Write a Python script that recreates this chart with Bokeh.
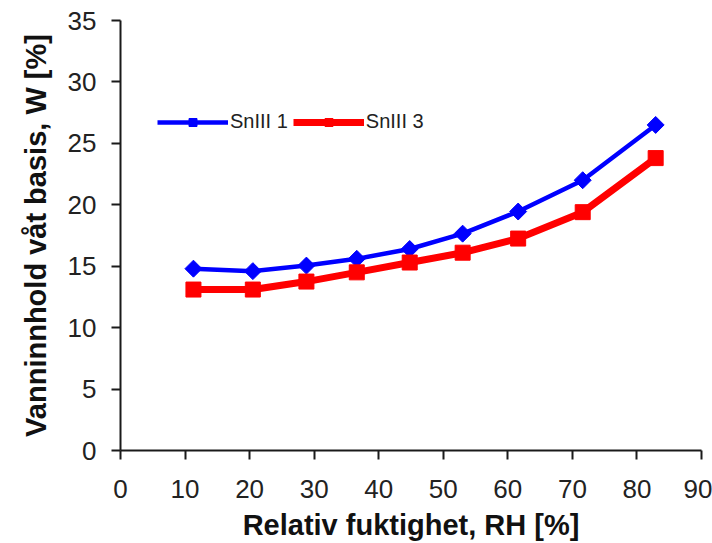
from bokeh.plotting import figure
from bokeh.models import Range1d, FixedTicker, Legend, LegendItem
from bokeh.embed import file_html
from bokeh.resources import INLINE

rh = [11.3, 20.5, 28.8, 36.6, 44.8, 53.0, 61.6, 71.6, 82.9]
snii1 = [14.8, 14.6, 15.05, 15.6, 16.4, 17.65, 19.45, 22.0, 26.5]
snii3 = [13.1, 13.1, 13.75, 14.5, 15.3, 16.1, 17.25, 19.4, 23.8]
series_names = ["SnIII 1", "SnIII 3"]
x_ticks = [0, 10, 20, 30, 40, 50, 60, 70, 80, 90]
y_ticks = [0, 5, 10, 15, 20, 25, 30, 35]

p = figure(width=712, height=543, output_backend="svg", toolbar_location=None,
           x_range=Range1d(0, 90), y_range=Range1d(0, 35),
           min_border_left=120, min_border_right=11, min_border_top=20, min_border_bottom=93)
p.outline_line_color = None
p.xgrid.grid_line_color = None
p.ygrid.grid_line_color = None
p.background_fill_color = "white"
p.border_fill_color = "white"

font = "Liberation Sans"
for ax in (p.xaxis[0], p.yaxis[0]):
    ax.axis_line_color = "#1a1a1a"
    ax.axis_line_width = 2
    ax.major_tick_line_color = "#1a1a1a"
    ax.major_tick_line_width = 2
    ax.major_tick_out = 9
    ax.major_tick_in = 0
    ax.minor_tick_line_color = None
    ax.major_label_text_font = font
    ax.major_label_text_font_size = "26px"
    ax.major_label_text_color = "#222222"
    ax.axis_label_text_font = font
    ax.axis_label_text_font_style = "bold"
    ax.axis_label_text_font_size = "29px"
    ax.axis_label_text_color = "#111111"

p.xaxis.ticker = FixedTicker(ticks=x_ticks)
p.yaxis.ticker = FixedTicker(ticks=y_ticks)
p.xaxis.axis_label = "Relativ fuktighet, RH [%]"
p.yaxis.axis_label = "Vanninnhold våt basis, W [%]"
p.xaxis.major_label_standoff = 20
p.xaxis.axis_label_standoff = 8
p.yaxis.major_label_standoff = 15
p.yaxis.axis_label_standoff = 13

l1 = p.line(rh, snii1, line_color="#0000FF", line_width=4.5)
m1 = p.scatter(rh, snii1, marker="square", angle=0.785398, size=12,
               fill_color="#0000FF", line_color="#0000FF")
l2 = p.line(rh, snii3, line_color="#FF0000", line_width=7)
m2 = p.scatter(rh, snii3, marker="square", size=15, fill_color="#FF0000", line_color="#FF0000")

legend = Legend(items=[LegendItem(label=series_names[0], renderers=[l1, m1]),
                       LegendItem(label=series_names[1], renderers=[l2, m2])],
                location=(37, 317), orientation="horizontal",
                border_line_color=None, background_fill_alpha=0,
                label_text_font=font, label_text_font_size="20px",
                label_text_color="#222222",
                glyph_width=71, glyph_height=20, label_standoff=2, spacing=5,
                padding=0, margin=0)
p.add_layout(legend, "center")

open("out.html", "w").write(file_html(p, INLINE))
